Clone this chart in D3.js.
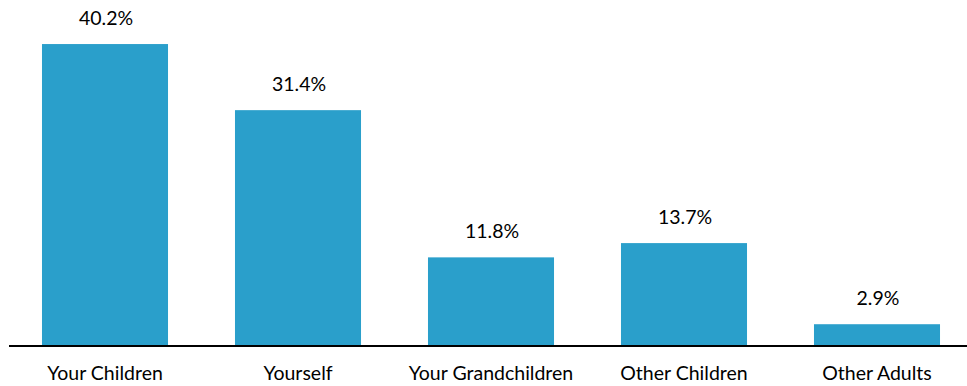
<!DOCTYPE html>
<html><head><meta charset="utf-8">
<script src="https://cdn.jsdelivr.net/npm/d3@7"></script>
<style>html,body{margin:0;padding:0;background:#fff;overflow:hidden}</style>
</head><body><svg id="c" width="967" height="386"></svg>
<script>
const categories = ["Your Children", "Yourself", "Your Grandchildren", "Other Children", "Other Adults"];
const values = [40.2, 31.4, 11.8, 13.7, 2.9];
const valueLabels = ["40.2%", "31.4%", "11.8%", "13.7%", "2.9%"];

const svg = d3.select("#c");
const font = "Lato, 'Liberation Sans', sans-serif";
const x = d3.scaleBand().domain(categories).range([8.5, 973.5]).paddingInner(0.347).paddingOuter(0.1735);
const y = d3.scaleLinear().domain([0, 45]).range([346, 8]);

svg.selectAll("rect.bar").data(values).enter().append("rect")
  .attr("class", "bar")
  .attr("x", (d, i) => x(categories[i]))
  .attr("width", x.bandwidth())
  .attr("y", d => y(d))
  .attr("height", d => y(0) - y(d))
  .attr("fill", "#2a9fcb");

svg.selectAll("text.val").data(values).enter().append("text")
  .attr("class", "val")
  .attr("x", (d, i) => x(categories[i]) + x.bandwidth() / 2 + 1)
  .attr("y", d => y(d) - 19)
  .attr("text-anchor", "middle")
  .attr("font-family", font).attr("font-size", 19.5).attr("fill", "#000")
  .text((d, i) => valueLabels[i]);

const axis = svg.append("g").attr("transform", `translate(0,${y(0)})`)
  .call(d3.axisBottom(x).tickSize(0).tickPadding(20));
axis.select(".domain").attr("stroke", "#000").attr("stroke-width", 2).attr("d", "M9,0H967");
axis.selectAll("text").attr("font-family", font).attr("font-size", 19.5).attr("fill", "#000");
</script></body></html>
